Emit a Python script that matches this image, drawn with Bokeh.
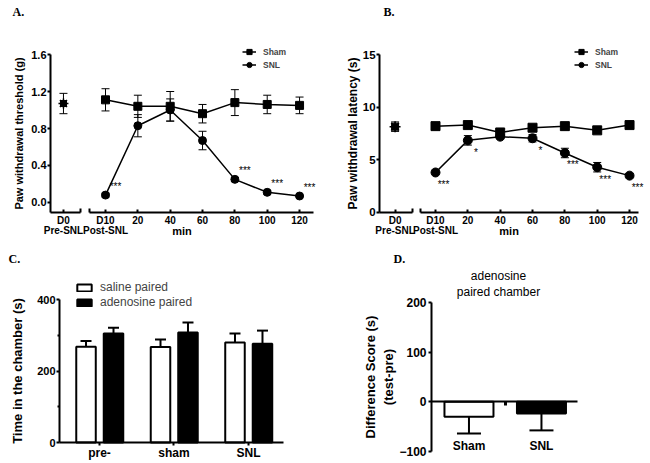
from bokeh.plotting import figure
from bokeh.models import (ColumnDataSource, Whisker, TeeHead, Legend, LegendItem,
                          LinearAxis, FixedTicker, Label, LabelSet, Range1d,
                          PrintfTickFormatter)
from bokeh.layouts import column, row
from bokeh.embed import file_html
from bokeh.resources import INLINE
from bokeh.core.properties import value

# ---------------- data ----------------
# time axis: D10 is drawn at position 0, D0 (pre-SNL) is drawn left of an axis break
time_pos = [0, 20, 40, 60, 80, 100, 120]
time_labels = ["D10", "20", "40", "60", "80", "100", "120"]
d0_label = "D0"
phase_labels = ["Pre-SNL", "Post-SNL"]

# Panel A: paw withdrawal threshold (g)
a_sham = [1.11, 1.04, 1.04, 0.96, 1.08, 1.06, 1.05]
a_sham_err = [0.12, 0.12, 0.16, 0.10, 0.14, 0.10, 0.09]
a_snl = [0.08, 0.83, 1.00, 0.67, 0.25, 0.11, 0.07]
a_snl_err = [0.02, 0.12, 0.12, 0.10, 0.02, 0.02, 0.01]
a_d0 = 1.07
a_d0_err = 0.11
a_stars = ["***", "", "", "", "***", "***", "***"]
a_yticks = [0.0, 0.4, 0.8, 1.2, 1.6]

# Panel B: paw withdrawal latency (s)
b_sham = [8.2, 8.3, 7.6, 8.05, 8.2, 7.8, 8.3]
b_sham_err = [0.3, 0.25, 0.3, 0.25, 0.25, 0.3, 0.25]
b_snl = [3.8, 6.85, 7.2, 7.05, 5.65, 4.3, 3.5]
b_snl_err = [0.15, 0.45, 0.2, 0.35, 0.45, 0.45, 0.2]
b_d0 = 8.15
b_d0_err = 0.45
b_stars = ["***", "*", "", "*", "***", "***", "***"]
b_yticks = [0, 5, 10, 15]

# Panel C: time in the chamber (s)
c_groups = ["pre-", "sham", "SNL"]
c_saline = [268, 267, 280]
c_saline_err = [16, 21, 25]
c_adenosine = [305, 308, 276]
c_adenosine_err = [16, 28, 37]
c_series = ["saline paired", "adenosine paired"]
c_yticks = [0, 200, 400]
c_yminor = [100, 300]

# Panel D: difference score (s), adenosine paired chamber
d_groups = ["Sham", "SNL"]
d_score = [-30, -23.5]
d_score_err = [34, 34]
d_yticks = [-100, 0, 100, 200]

FONT = "Liberation Sans"
SERIF = "Liberation Serif"


def base_fig(w, h, xr, yr):
    p = figure(width=w, height=h, x_range=Range1d(*xr), y_range=Range1d(*yr),
               output_backend="svg", toolbar_location=None,
               x_axis_location=None, y_axis_location=None, min_border=0)
    p.grid.visible = False
    p.outline_line_color = None
    p.background_fill_color = "white"
    p.border_fill_color = "white"
    return p


def fixed_axis(p, side, loc, bounds, ticks, minor=None, overrides=None, fmt=None,
               tick_size="11px", tick_in=0, tick_out=3, tick_w=2, standoff=2,
               label=None, label_size=None, label_standoff=5, minor_in=0, minor_out=0,
               line=True, tick_color="black", label_color="black"):
    ax = LinearAxis(fixed_location=loc, bounds=bounds,
                    ticker=FixedTicker(ticks=ticks, minor_ticks=minor or []))
    if overrides:
        ax.major_label_overrides = overrides
    if fmt:
        ax.formatter = PrintfTickFormatter(format=fmt)
    ax.axis_line_width = 2
    ax.axis_line_color = "black" if line else None
    ax.major_tick_line_width = tick_w
    ax.major_tick_line_color = tick_color
    ax.major_tick_in = tick_in
    ax.major_tick_out = tick_out
    ax.minor_tick_line_color = "black" if minor else None
    ax.minor_tick_line_width = 2
    ax.minor_tick_in = minor_in
    ax.minor_tick_out = minor_out
    ax.major_label_text_font = FONT
    ax.major_label_text_font_style = "bold"
    ax.major_label_text_font_size = tick_size
    ax.major_label_text_color = label_color
    ax.major_label_standoff = standoff
    if label:
        ax.axis_label = label
        ax.axis_label_text_font = FONT
        ax.axis_label_text_font_style = "bold"
        ax.axis_label_text_font_size = label_size
        ax.axis_label_text_color = "black"
        ax.axis_label_standoff = label_standoff
    p.add_layout(ax, side)
    return ax


def panel_letter(p, text, x, y):
    p.add_layout(Label(x=x, y=y, x_units="screen", y_units="screen", text=text,
                       text_font=SERIF, text_font_style="bold", text_font_size="12px",
                       text_baseline="top", text_align="left", text_color="black"))


def time_panel(letter, letter_x, sham, sham_err, snl, snl_err, d0, d0_err, stars,
               yticks, ylabel, yfmt, xr, yr, y_axis_x, y_line, y_top, seg1_end,
               seg2, d0_pos, ylab_size, ytick_size, ylab_standoff, msize,
               star_dx, star_dy, legend_loc):
    p = base_fig(325, 240, xr, yr)

    fixed_axis(p, "left", y_axis_x, (y_line, y_top), yticks, fmt=yfmt,
               tick_size=ytick_size, tick_out=3, standoff=1, label=ylabel,
               label_size=ylab_size, label_standoff=ylab_standoff)
    # broken time axis: pre-SNL segment and post-SNL segment
    fixed_axis(p, "below", y_line, (y_axis_x, seg1_end), [d0_pos],
               minor=[seg1_end - 0.1], overrides={d0_pos: d0_label}, tick_size="10px",
               tick_in=3, tick_out=0, standoff=3, minor_in=4)
    fixed_axis(p, "below", y_line, seg2, time_pos, minor=[seg2[0] + 0.1],
               overrides={t: l for t, l in zip(time_pos, time_labels)},
               tick_size="10px", tick_in=3, tick_out=0, standoff=3, minor_in=4)

    phase_src = ColumnDataSource(dict(x=[d0_pos, time_pos[0]], t=phase_labels))
    p.add_layout(LabelSet(x="x", y=10, y_units="screen", text="t", source=phase_src,
                          text_align="center", text_baseline="middle",
                          text_font=value(FONT), text_font_style="bold",
                          text_font_size="10px", text_color="black"))
    p.add_layout(Label(x=(y_axis_x + seg2[1]) / 2, y=10, y_units="screen", text="min",
                       text_align="center", text_baseline="middle", text_font=FONT,
                       text_font_style="bold", text_font_size="11px", text_color="black"))

    # series
    sham_src = ColumnDataSource(dict(x=time_pos, y=sham,
                                     lo=[v - e for v, e in zip(sham, sham_err)],
                                     hi=[v + e for v, e in zip(sham, sham_err)]))
    snl_src = ColumnDataSource(dict(x=time_pos, y=snl,
                                    lo=[v - e for v, e in zip(snl, snl_err)],
                                    hi=[v + e for v, e in zip(snl, snl_err)]))
    d0_src = ColumnDataSource(dict(x=[d0_pos], y=[d0], lo=[d0 - d0_err], hi=[d0 + d0_err]))

    for src in (sham_src, snl_src, d0_src):
        p.add_layout(Whisker(source=src, base="x", upper="hi", lower="lo",
                             line_color="black", line_width=1,
                             upper_head=TeeHead(size=8, line_width=1, line_color="black"),
                             lower_head=TeeHead(size=8, line_width=1, line_color="black")))

    sl = p.line("x", "y", source=sham_src, line_color="black", line_width=1.5)
    sp = p.scatter("x", "y", source=sham_src, marker="square", size=msize, color="black")
    nl = p.line("x", "y", source=snl_src, line_color="black", line_width=1.5)
    npt = p.scatter("x", "y", source=snl_src, marker="circle", size=msize, color="black")
    p.scatter("x", "y", source=d0_src, marker="square", size=msize - 2, color="black")
    p.scatter("x", "y", source=d0_src, marker="asterisk", size=msize + 2,
              line_color="black", line_width=1.5)

    star_src = ColumnDataSource(dict(x=time_pos, y=snl, t=stars))
    p.add_layout(LabelSet(x="x", y="y", text="t", source=star_src, x_offset=star_dx,
                          y_offset=star_dy, text_align="center", text_baseline="middle",
                          text_font=value(FONT), text_font_size="10px", text_color="black"))

    leg = Legend(items=[LegendItem(label="Sham", renderers=[sl, sp]),
                        LegendItem(label="SNL", renderers=[nl, npt])],
                 location=legend_loc, border_line_color=None, background_fill_alpha=0,
                 padding=0, margin=0, spacing=0, glyph_width=14, glyph_height=13,
                 label_height=13, label_standoff=7, label_text_font=FONT,
                 label_text_font_style="bold", label_text_font_size="8.5px")
    p.add_layout(leg)
    panel_letter(p, letter, letter_x, 236)
    return p


pA = time_panel("A.", 12, a_sham, a_sham_err, a_snl, a_snl_err, a_d0, a_d0_err, a_stars,
                a_yticks, "Paw withdrawal threshold (g)", "%.1f",
                (-64.94, 136.05), (-0.411, 2.184), -34.0, -0.103, 1.6, -15.5,
                (-9.9, 128.6), -26, "11px", "11px", 3, 8, 10, 9, (242, 169))
pB = time_panel("B.", 58, b_sham, b_sham_err, b_snl, b_snl_err, b_d0, b_d0_err, b_stars,
                b_yticks, "Paw withdrawal latency (s)", "%d",
                (-68.03, 132.96), (-2.659, 20.13), -34.6, 0, 15, -14.2,
                (-9.3, 125.6), -25, "12px", "11.5px", 0, 9, 8, -12, (249, 169))

# ---------------- Panel C ----------------
pC = base_fig(325, 223, (-0.329, 4.034), (-58.74, 565.04))
grp_pos = [i + 1 for i in range(len(c_groups))]
sal_x = [g - 0.181 for g in grp_pos]
ade_x = [g + 0.188 for g in grp_pos]
bar_w = 0.262

sal_src = ColumnDataSource(dict(x=sal_x, top=c_saline,
                                hi=[v + e for v, e in zip(c_saline, c_saline_err)]))
ade_src = ColumnDataSource(dict(x=ade_x, top=c_adenosine,
                                hi=[v + e for v, e in zip(c_adenosine, c_adenosine_err)]))
for src in (sal_src, ade_src):
    pC.add_layout(Whisker(source=src, base="x", upper="hi", lower="top",
                          line_color="black", line_width=2, level="underlay",
                          upper_head=TeeHead(size=11, line_width=2, line_color="black"),
                          lower_head=None))
rs = pC.vbar(x="x", top="top", width=bar_w, source=sal_src, fill_color="white",
             line_color="black", line_width=2)
ra = pC.vbar(x="x", top="top", width=bar_w, source=ade_src, fill_color="black",
             line_color="black", line_width=2)

fixed_axis(pC, "left", 0.463, (0, 400), c_yticks, minor=c_yminor, tick_size="11px",
           tick_out=3, standoff=1, label="Time in the chamber (s)", label_size="13px",
           label_standoff=9, minor_out=2)
fixed_axis(pC, "below", 0, (0.463, 3.47), grp_pos,
           overrides={g: n for g, n in zip(grp_pos, c_groups)}, tick_size="12px",
           tick_out=3, standoff=0)

legC = Legend(items=[LegendItem(label=c_series[0], renderers=[rs]),
                     LegendItem(label=c_series[1], renderers=[ra])],
              location=(75, 154), border_line_color=None, background_fill_alpha=0,
              padding=0, margin=0, spacing=1, glyph_width=18, glyph_height=9,
              label_height=14, label_standoff=7, label_text_font=FONT,
              label_text_font_size="12px")
pC.add_layout(legC)
panel_letter(pC, "C.", 8, 212)

# ---------------- Panel D ----------------
pD = base_fig(325, 223, (-0.979, 3.504), (-124.16, 324.8))
d_pos = [i + 1 for i in range(len(d_groups))]
d_fill = ["white", "black"]
d_src = ColumnDataSource(dict(x=d_pos, bottom=d_score, fill=d_fill,
                              lo=[v - e for v, e in zip(d_score, d_score_err)]))
pD.add_layout(Whisker(source=d_src, base="x", upper="bottom", lower="lo",
                      line_color="black", line_width=2, level="underlay",
                      lower_head=TeeHead(size=24, line_width=2, line_color="black"),
                      upper_head=None))
pD.vbar(x="x", top=0, bottom="bottom", width=0.676, source=d_src, fill_color="fill",
        line_color="black", line_width=2)

fixed_axis(pD, "left", 0.483, (-100, 200), d_yticks, tick_size="12px", tick_out=3,
           standoff=2, label="Difference Score (s)\n(test-pre)", label_size="13px",
           label_standoff=0)
fixed_axis(pD, "below", 0, (0.483, 2.497), [(d_pos[0] + d_pos[1]) / 2],
           tick_out=4, tick_w=3, label_color=None)
fixed_axis(pD, "below", -75.8, "auto", d_pos,
           overrides={g: n for g, n in zip(d_pos, d_groups)}, tick_size="12px",
           tick_out=0, standoff=0, line=False, tick_color=None)

pD.add_layout(Label(x=173, y=164, x_units="screen", y_units="screen",
                    text="adenosine\npaired chamber", text_align="center",
                    text_baseline="bottom", text_font=FONT, text_font_size="12px",
                    text_color="black"))
panel_letter(pD, "D.", 68, 212)

layout = column(row(pA, pB), row(pC, pD))
open("out.html", "w").write(file_html(layout, INLINE))
